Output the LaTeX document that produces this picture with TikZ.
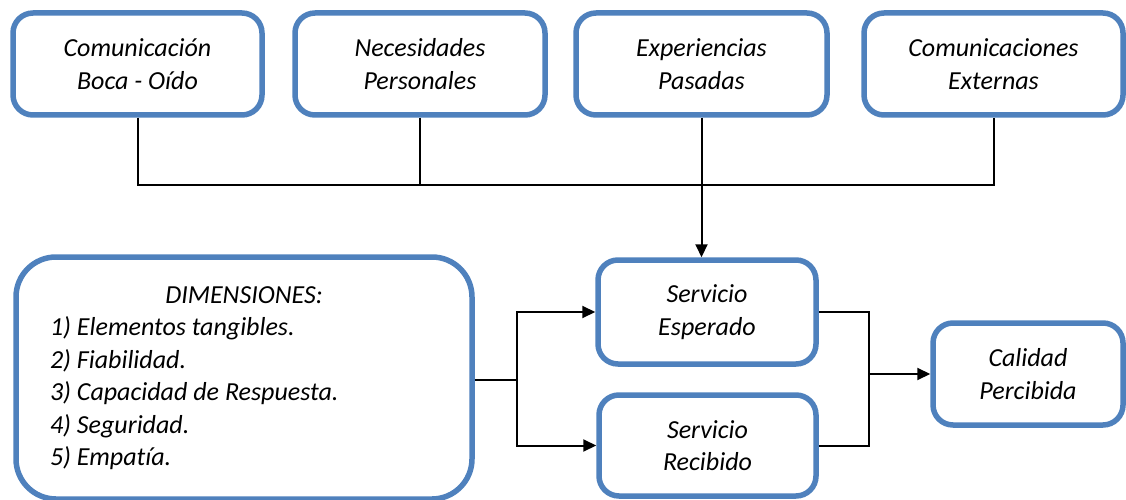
\documentclass[tikz,border=0pt]{standalone}
\usepackage{fontspec}
\setmainfont{Carlito}[Ligatures=NoCommon]
\usetikzlibrary{arrows.meta}
\definecolor{cajaazul}{HTML}{4F81BD}
\begin{document}
\begin{tikzpicture}[x=1pt,y=-1pt,
        caja/.style={draw=cajaazul,line width=5.5pt,rounded corners=20pt,fill=white,
          align=center,inner sep=0pt,font=\itshape\fontsize{26}{32.5}\selectfont},
        linea/.style={line width=2pt},
        flecha/.style={line width=2pt,-{Triangle[length=13pt,width=12pt]}}]
        \useasboundingbox (0,0) rectangle (1126,500);
        \node[caja,minimum width=249pt,minimum height=102pt] (boca) at (137.5,64) {Comunicación\\Boca - Oído};
        \node[caja,minimum width=250pt,minimum height=102pt] (nec) at (420,64) {Necesidades\\Personales};
        \node[caja,minimum width=251pt,minimum height=102pt] (exp) at (701.5,64) {Experiencias\\Pasadas};
        \node[caja,minimum width=259pt,minimum height=102pt] (ext) at (993.5,64) {Comunicaciones\\Externas};
        \node[caja,minimum width=218pt,minimum height=104pt] (esp) at (707,312) {Servicio\\Esperado};
        \node[caja,minimum width=217pt,minimum height=101pt] (rec) at (707.5,445.5) {Servicio\\Recibido};
        \node[caja,minimum width=190pt,minimum height=102pt] (cal) at (1028,374) {Calidad\\Percibida};
        \node[caja,rounded corners=40pt,minimum width=456pt,minimum height=242pt,
          text width=388pt,align=flush left] (dim) at (244,378)
          {\makebox[388pt][c]{DIMENSIONES:}\\
           1) Elementos tangibles.\\
           2) Fiabilidad.\\
           3) Capacidad de Respuesta.\\
           4) Seguridad.\\
           5) Empatía.};
        \coordinate (bus) at (0,185);
        \coordinate (izq) at (517,380);
        \coordinate (der) at (869,374);
        \draw[linea] (boca.south) -- (boca.south |- bus) -- (ext.south |- bus) -- (ext.south);
        \draw[linea] (nec.south) -- (nec.south |- bus);
        \draw[flecha] (exp.south) -- (exp.south |- esp.north);
        \draw[linea] (dim.east |- izq) -- (izq);
        \draw[flecha] (izq) |- (esp.west);
        \draw[flecha] (izq) |- (rec.west);
        \draw[linea] (esp.east) -| (der);
        \draw[linea] (rec.east) -| (der);
        \draw[flecha] (der) -- (cal.west);
        \end{tikzpicture}
\end{document}
